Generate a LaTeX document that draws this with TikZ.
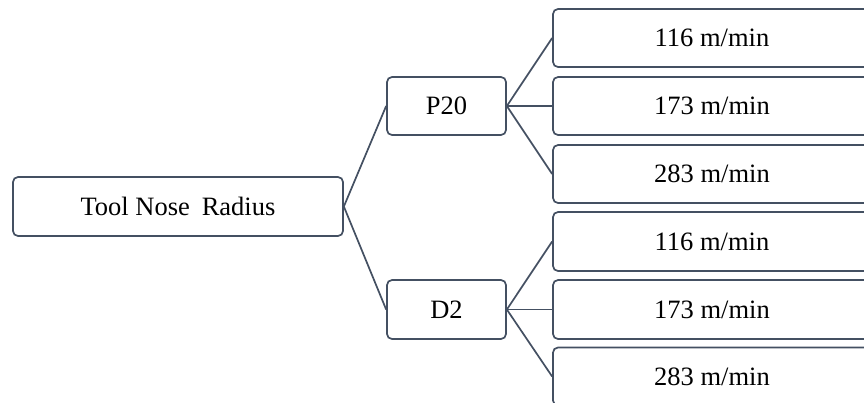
\documentclass[tikz,border=0pt]{standalone}
\usepackage{fontspec}
\setmainfont{Liberation Serif}
\definecolor{edge}{RGB}{68,80,98}
\tikzset{
  box/.style={draw=edge, line width=1.7pt, rounded corners=5pt, fill=white,
    inner sep=0pt, font=\fontsize{26.5}{31}\selectfont, text=black},
  link/.style={draw=edge, line width=1.7pt}
}
\begin{document}
\begin{tikzpicture}[x=1pt,y=-1pt]
\useasboundingbox (0,0) rectangle (864,402);
\clip (0,0) rectangle (864,402);
\node[box, minimum width=330pt, minimum height=59pt] (root) at (178,206.5) {Tool Nose\hspace{0.45em}Radius};
\node[box, minimum width=119pt, minimum height=58pt] (p20) at (446.5,106) {P20};
\node[box, minimum width=119pt, minimum height=59pt] (d2) at (446.5,309.5) {D2};
\node[box, minimum width=318pt, minimum height=58pt] (a1) at (712,38) {116 m/min};
\node[box, minimum width=318pt, minimum height=58pt] (a2) at (712,106) {173 m/min};
\node[box, minimum width=318pt, minimum height=58pt] (a3) at (712,174) {283 m/min};
\node[box, minimum width=318pt, minimum height=59pt] (b1) at (712,241.5) {116 m/min};
\node[box, minimum width=318pt, minimum height=59pt] (b2) at (712,309.5) {173 m/min};
\node[box, minimum width=318pt, minimum height=58pt] (b3) at (712,376.5) {283 m/min};
\draw[link] (root.east) -- (p20.west);
\draw[link] (root.east) -- (d2.west);
\draw[link] (p20.east) -- (a1.west);
\draw[link] (p20.east) -- (a2.west);
\draw[link] (p20.east) -- (a3.west);
\draw[link] (d2.east) -- (b1.west);
\draw[link] (d2.east) -- (b2.west);
\draw[link] (d2.east) -- (b3.west);
\end{tikzpicture}
\end{document}
